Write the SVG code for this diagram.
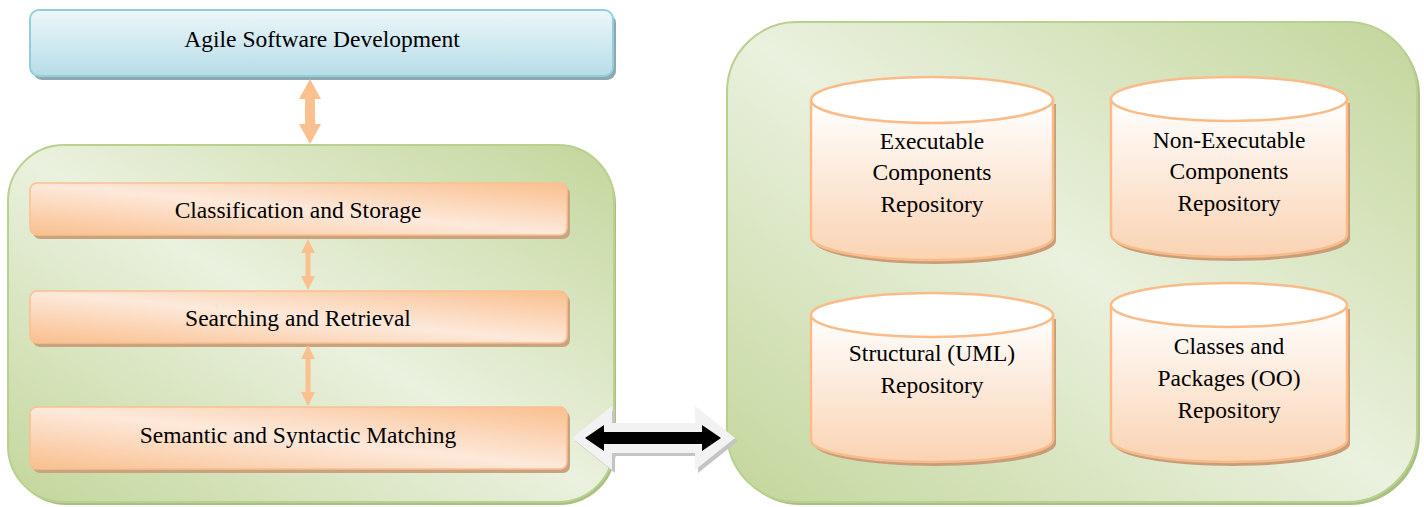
<svg xmlns="http://www.w3.org/2000/svg" width="1424" height="507" viewBox="0 0 1424 507">
<defs>
<linearGradient id="gBlue" x1="0" y1="0" x2="0" y2="1"><stop offset="0" stop-color="#edf7fa"/><stop offset="1" stop-color="#b6dce7"/></linearGradient>
<linearGradient id="gGreen" x1="0" y1="1" x2="1" y2="0"><stop offset="0" stop-color="#c3d69b"/><stop offset="0.5" stop-color="#eaf1de"/><stop offset="1" stop-color="#c3d69b"/></linearGradient>
<linearGradient id="gOrange" x1="0" y1="1" x2="1" y2="0"><stop offset="0" stop-color="#f9bf8e"/><stop offset="0.5" stop-color="#fde9db"/><stop offset="1" stop-color="#f9bf8e"/></linearGradient>
<linearGradient id="gCyl" x1="0" y1="0" x2="0" y2="1"><stop offset="0" stop-color="#ffffff"/><stop offset="1" stop-color="#fad3b3"/></linearGradient>
<style>
text{font-family:"Liberation Serif","Times New Roman",serif;font-size:23.5px;fill:#000;text-anchor:middle}
.cont{fill:url(#gGreen);stroke:#b9d08f;stroke-width:2}
.contsh{fill:#a9bf84}
.bar{fill:url(#gOrange);stroke:#fac090;stroke-width:1.5}
.barsh{fill:#c9a37f}
.cyl{fill:url(#gCyl);stroke:#f9bb88;stroke-width:2.5}
.cyltop{fill:#ffffff;stroke:#f9bb88;stroke-width:2.5}
.cylsh{fill:#c89e7a}
.oarrow{fill:#fac090}
</style>
</defs>

<g id="agile">
<rect x="33" y="14" width="583" height="66" rx="9" fill="#8ea8b2"/>
<rect x="30" y="10" width="583" height="66" rx="9" fill="url(#gBlue)" stroke="#93cedd" stroke-width="2"/>
<text x="322" y="47">Agile Software Development</text>
</g>

<g id="left-container">
<rect x="10" y="148" width="606" height="357" rx="56" class="contsh"/>
<rect x="8" y="145" width="606" height="357" rx="56" class="cont"/>
</g>

<g id="classification">
<rect x="33" y="187" width="537" height="52" rx="7" class="barsh"/>
<rect x="30" y="183" width="537" height="52" rx="7" class="bar"/>
<text x="298" y="218">Classification and Storage</text>
</g>

<g id="searching">
<rect x="33" y="295" width="537" height="52" rx="7" class="barsh"/>
<rect x="30" y="291" width="537" height="52" rx="7" class="bar"/>
<text x="298" y="326">Searching and Retrieval</text>
</g>

<g id="matching">
<rect x="33" y="411" width="537" height="62" rx="7" class="barsh"/>
<rect x="30" y="407" width="537" height="62" rx="7" class="bar"/>
<text x="298" y="443">Semantic and Syntactic Matching</text>
</g>

<g id="right-container">
<rect x="730" y="25" width="690" height="480" rx="70" class="contsh"/>
<rect x="727" y="22" width="690" height="480" rx="70" class="cont"/>
</g>

<g id="repo-exec">
<path d="M814,104 L814,241 A121,23 0 0 0 1056,241 L1056,104 Z" class="cylsh"/>
<path d="M811,100 L811,237 A121,23 0 0 0 1053,237 L1053,100 Z" class="cyl"/>
<ellipse cx="932" cy="100" rx="121" ry="23" class="cyltop"/>
<text x="932" y="149">Executable</text>
<text x="932" y="180">Components</text>
<text x="932" y="212">Repository</text>
</g>

<g id="repo-nonexec">
<path d="M1114,103 L1114,239 A118,22 0 0 0 1350,239 L1350,103 Z" class="cylsh"/>
<path d="M1111,99 L1111,235 A118,22 0 0 0 1347,235 L1347,99 Z" class="cyl"/>
<ellipse cx="1229" cy="99" rx="118" ry="22" class="cyltop"/>
<text x="1229" y="148">Non-Executable</text>
<text x="1229" y="179">Components</text>
<text x="1229" y="211">Repository</text>
</g>

<g id="repo-uml">
<path d="M814,319 L814,444 A121,22 0 0 0 1056,444 L1056,319 Z" class="cylsh"/>
<path d="M811,315 L811,440 A121,22 0 0 0 1053,440 L1053,315 Z" class="cyl"/>
<ellipse cx="932" cy="315" rx="121" ry="22" class="cyltop"/>
<text x="932" y="361">Structural (UML)</text>
<text x="932" y="393">Repository</text>
</g>

<g id="repo-oo">
<path d="M1114,309 L1114,444 A118,22 0 0 0 1350,444 L1350,309 Z" class="cylsh"/>
<path d="M1111,305 L1111,440 A118,22 0 0 0 1347,440 L1347,305 Z" class="cyl"/>
<ellipse cx="1229" cy="305" rx="118" ry="22" class="cyltop"/>
<text x="1229" y="354">Classes and</text>
<text x="1229" y="386">Packages (OO)</text>
<text x="1229" y="418">Repository</text>
</g>

<g id="connectors">
<polygon class="oarrow" points="310,79 321,99 315,99 315,124 321,124 310,144 299,124 305,124 305,99 299,99"/>
<polygon class="oarrow" points="308,239 315,253 310.5,253 310.5,276 315,276 308,290 301,276 305.5,276 305.5,253 301,253"/>
<polygon class="oarrow" points="308,345 315,359 310.5,359 310.5,392 315,392 308,406 301,392 305.5,392 305.5,359 301,359"/>
<polygon fill="#c4c4c4" points="575,441 615,409 615,426 698,426 698,409 738,441 698,473 698,456 615,456 615,473"/>
<polygon fill="#f2f2f2" points="572,438 612,406 612,423 695,423 695,406 735,438 695,470 695,453 612,453 612,470"/>
<polygon fill="#000000" points="585,438 604,425 604,432 702,432 702,425 721,438 702,451 702,444 604,444 604,451"/>
</g>
</svg>
